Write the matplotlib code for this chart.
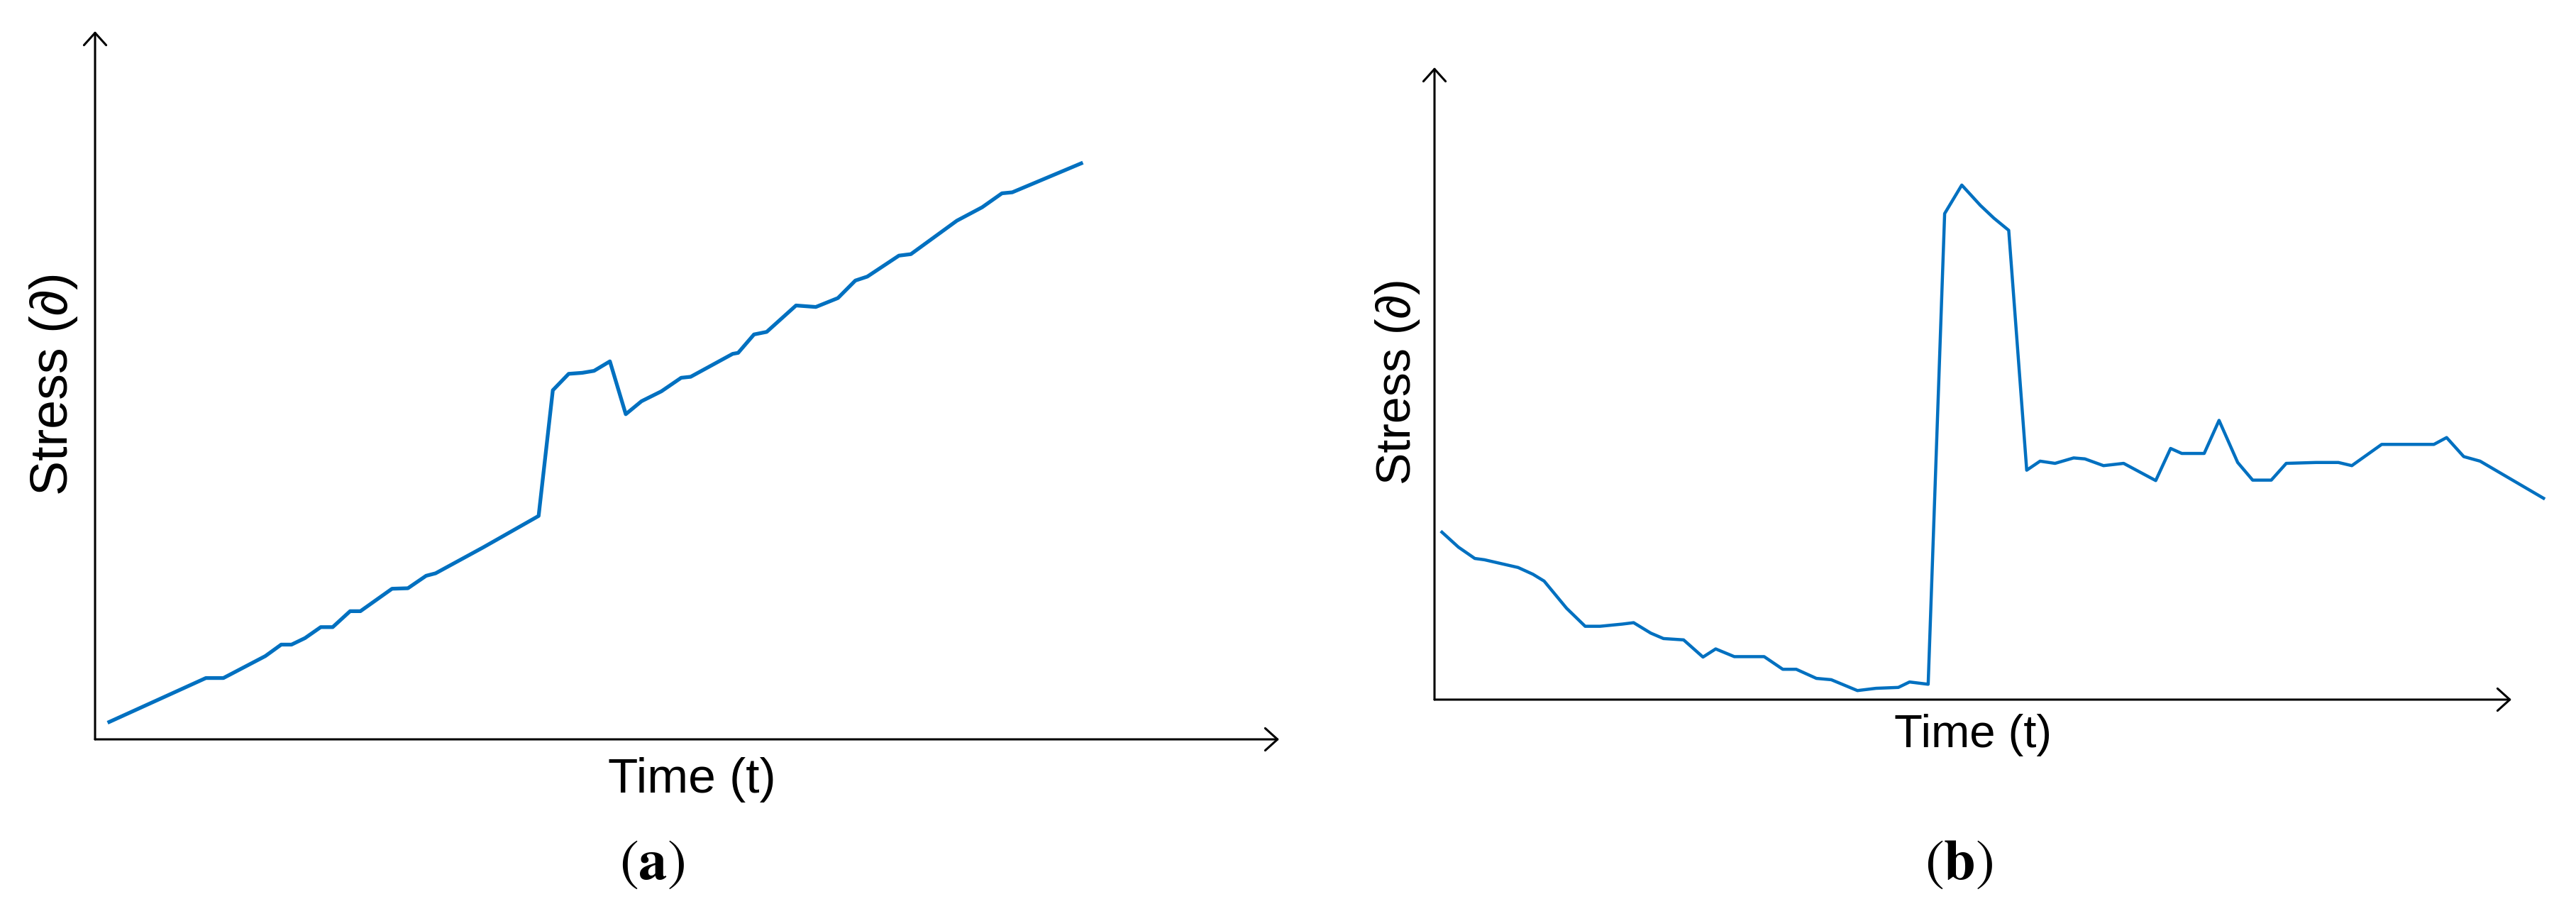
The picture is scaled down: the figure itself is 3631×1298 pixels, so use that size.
import matplotlib
matplotlib.use("Agg")
import matplotlib.pyplot as plt

plt.rcParams["mathtext.fontset"] = "stix"

# ---- data (percent of axis length) ----
time_a = [1.20, 9.36, 10.84, 14.38, 15.72, 16.59, 17.73, 19.06, 20.07, 21.54, 22.41,
          25.08, 26.42, 27.96, 28.76, 32.78, 37.46, 38.66, 40.00, 41.14, 42.14, 43.48,
          44.82, 46.15, 47.83, 49.50, 50.30, 53.85, 54.31, 55.65, 56.72, 59.20, 60.87,
          62.74, 64.21, 65.22, 67.89, 68.90, 72.78, 74.92, 76.59, 77.46, 83.28]
stress_a = [2.46, 8.66, 8.66, 11.76, 13.38, 13.38, 14.30, 15.85, 15.85, 18.10, 18.10,
            21.27, 21.34, 23.10, 23.45, 27.11, 31.55, 49.30, 51.62, 51.76, 52.04, 53.38,
            45.92, 47.75, 49.15, 51.06, 51.20, 54.44, 54.58, 57.18, 57.54, 61.27, 61.06,
            62.32, 64.79, 65.35, 68.31, 68.52, 73.24, 75.14, 77.11, 77.25, 81.34]

time_b = [0.69, 2.22, 3.74, 4.64, 7.76, 9.14, 10.18, 12.26, 13.99, 15.37, 17.45, 18.49,
          20.08, 21.26, 23.13, 24.93, 26.11, 27.84, 30.61, 32.34, 33.59, 35.46, 36.84,
          39.27, 41.00, 43.07, 44.11, 45.84, 47.37, 48.96, 50.69, 51.94, 53.32, 54.99,
          56.23, 57.62, 59.35, 60.39, 62.12, 63.99, 66.97, 68.35, 69.39, 71.47, 72.85,
          74.58, 75.97, 77.70, 79.09, 81.86, 83.93, 85.18, 87.95, 92.80, 93.98, 95.57,
          97.09, 102.98]
stress_b = [26.49, 24.12, 22.33, 22.12, 20.90, 19.83, 18.75, 14.46, 11.60, 11.60, 11.95,
            12.17, 10.52, 9.66, 9.45, 6.73, 8.02, 6.80, 6.80, 4.80, 4.80, 3.36, 3.15,
            1.43, 1.79, 1.93, 2.79, 2.43, 76.88, 81.39, 78.17, 76.16, 74.23, 36.29,
            37.72, 37.37, 38.23, 38.08, 37.01, 37.37, 34.65, 39.73, 38.94, 38.94, 44.17,
            37.51, 34.72, 34.72, 37.37, 37.51, 37.51, 37.01, 40.37, 40.37, 41.45, 38.44,
            37.72, 31.85]

x_label = "Time (t)"
y_label = "Stress (\u2202)"
captions = ["a", "b"]

W, H = 3631, 1298
fig = plt.figure(figsize=(W / 100, H / 100), dpi=100)
fig.patch.set_facecolor("white")

blue = "#0070C0"
sans = ["Liberation Sans", "DejaVu Sans"]


def px_axes(x0, y_bottom, x1, y_top):
    return fig.add_axes([x0 / W, 1 - y_bottom / H, (x1 - x0) / W, (y_bottom - y_top) / H])


def decorate(ax):
    ax.set_xlim(0, 100)
    ax.set_ylim(0, 100)
    for s in ax.spines.values():
        s.set_visible(False)
    ax.set_xticks([])
    ax.set_yticks([])
    ax.patch.set_alpha(0)
    style = "->,head_length=0.5,head_width=0.45"
    for tip in [(1, 0), (0, 1)]:
        ax.annotate("", xy=tip, xytext=(0, 0), xycoords="axes fraction",
                    arrowprops=dict(arrowstyle=style, lw=2.2, color="black",
                                    mutation_scale=25, shrinkA=0, shrinkB=0))


ax1 = px_axes(134, 1042, 1803, 44)
decorate(ax1)
ax1.plot(time_a, stress_a, color=blue, lw=3.8, clip_on=False, solid_joinstyle="round")

ax2 = px_axes(2022, 986, 3540, 95)
decorate(ax2)
ax2.plot(time_b, stress_b, color=blue, lw=3.2, clip_on=False, solid_joinstyle="round")

# axis labels
fig.text(975 / W, 1 - 1117 / H, x_label, ha="center", va="baseline",
         fontsize=50, family=sans)
fig.text(2781 / W, 1 - 1053 / H, x_label, ha="center", va="baseline",
         fontsize=47, family=sans)
fig.text(75 / W, 1 - 541 / H, y_label, ha="center", va="center", rotation=90,
         fontsize=53, family=sans)
fig.text(1970 / W, 1 - 538 / H, y_label, ha="center", va="center", rotation=90,
         fontsize=49, family=sans)

# captions
for cx, c in zip([919, 2761], captions):
    fig.text(cx / W, 1 - 1239 / H, r"$(\mathbf{" + c + r"})$",
             ha="center", va="baseline", fontsize=58)

fig.savefig("out.png", dpi=100, facecolor="white")
